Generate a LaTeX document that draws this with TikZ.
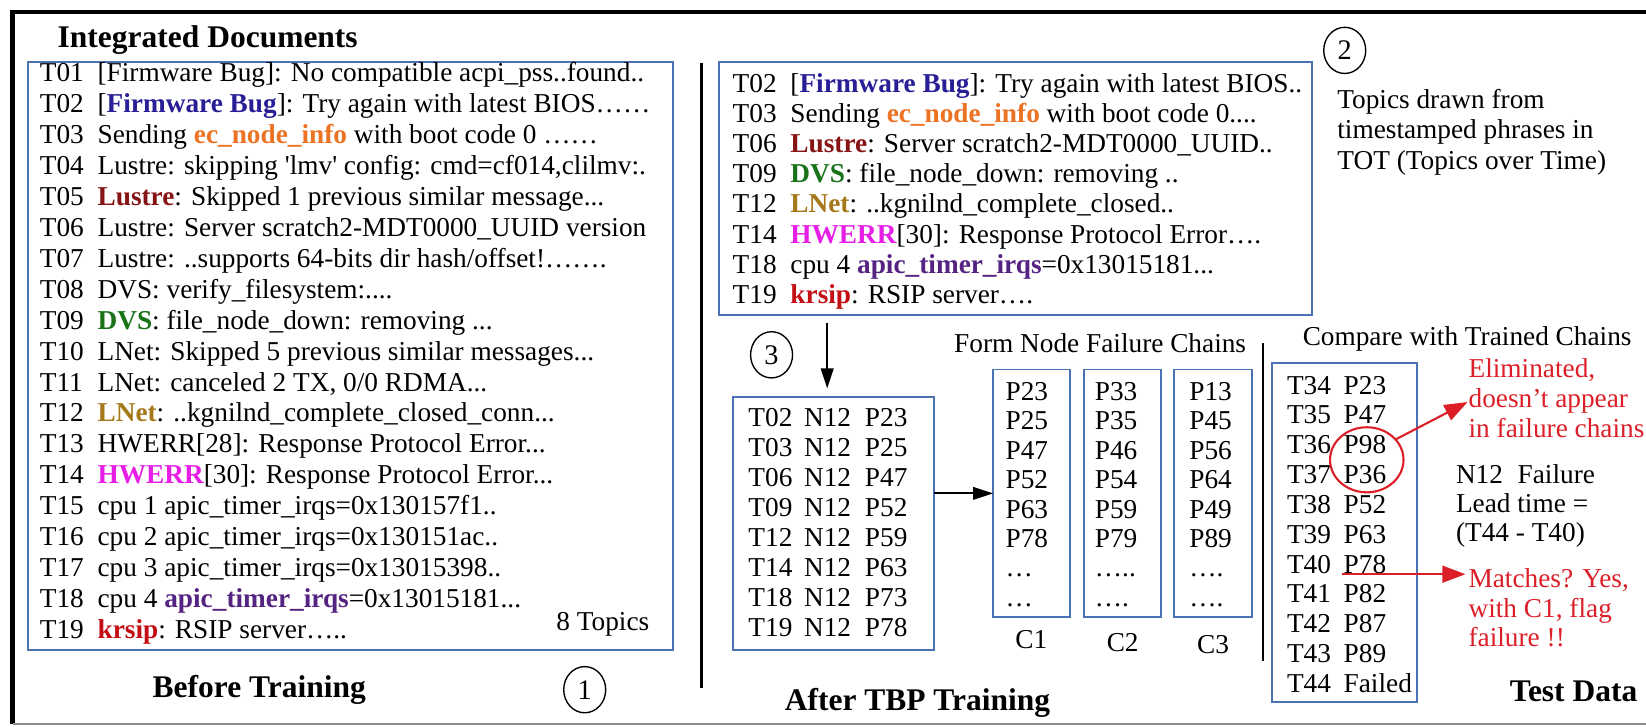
\documentclass[tikz,border=0pt]{standalone}
\usepackage{fontspec}
\setmainfont{Liberation Serif}
\usetikzlibrary{arrows.meta,shapes.geometric,calc}
\definecolor{bxblue}{RGB}{75,115,180}
\definecolor{fwblue}{RGB}{40,30,150}
\definecolor{ecorange}{RGB}{235,115,35}
\definecolor{lured}{RGB}{135,20,20}
\definecolor{dvsgreen}{RGB}{25,115,25}
\definecolor{lnetgold}{RGB}{165,120,25}
\definecolor{hwmag}{RGB}{230,30,230}
\definecolor{apicpurple}{RGB}{85,35,130}
\definecolor{krred}{RGB}{195,15,20}
\definecolor{annred}{RGB}{220,30,40}
\newcommand\kw[2]{\textbf{\color{#1}#2}}
\newcommand\tlab[1]{\makebox[55pt][l]{#1}}
\newcommand\tnp[3]{\makebox[53pt][l]{#1}\makebox[58pt][l]{#2}#3}
\newcommand\tpp[2]{\makebox[54pt][l]{#1}#2}
\begin{document}
\begin{tikzpicture}[x=1pt,y=-1pt,
  bx/.style={draw=bxblue, line width=1.8pt, rectangle, inner sep=0pt, outer sep=0pt},
  body/.style={inner sep=0pt, outer sep=0pt, anchor=base west, font=\fontsize{26}{29.5}\selectfont},
  ttl/.style={inner sep=0pt, outer sep=0pt, anchor=base, font=\fontsize{30}{34}\selectfont\bfseries},
  num/.style={draw, ellipse, line width=1.3pt, minimum width=40pt, minimum height=44pt, inner sep=0pt, font=\fontsize{27}{30}\selectfont},
  arr/.style={-{Triangle[length=19pt,width=12pt]}, line width=1.8pt},
  rarr/.style={draw=annred, line width=2pt, -{Triangle[length=22pt,width=16pt]}},
  sepline/.style={line width=2.5pt}]
\useasboundingbox (0,0) rectangle (1568,692);
% frame
\draw[line width=4pt] (1568,11.5) -- (12,11.5) -- (12,690);
\draw[line width=2pt, black!45] (12,690) -- (1568,690);
% titles
\node[ttl, anchor=base west] (tid) at (55,45) {Integrated Documents};
\node[ttl] (tbt) at (247,664) {Before Training};
\node[ttl] (tat) at (874,677) {After TBP Training};
\node[ttl] (ttd) at (1499,668) {Test Data};
% circled numbers
\node[num] (n1) at (557,657) {1};
\node[num] (n2) at (1281,48) {2};
\node[num] (n3) at (735,338) {3};
% left box
\node[bx, minimum width=614pt, minimum height=560pt] (L) at (334,339) {};
\node[body] (Ltxt) at (38,77.5) {\begin{tabular}[t]{@{}l@{}}
\tlab{T01}[Firmware Bug]: No compatible acpi\_pss..found..\\
\tlab{T02}[\kw{fwblue}{Firmware Bug}]: Try again with latest BIOS……\\
\tlab{T03}Sending \kw{ecorange}{ec\_node\_info} with boot code 0 ……\\
\tlab{T04}Lustre: skipping \textquotesingle lmv\textquotesingle\ config: cmd=cf014,clilmv:.\\
\tlab{T05}\kw{lured}{Lustre}: Skipped 1 previous similar message...\\
\tlab{T06}Lustre: Server scratch2-MDT0000\_UUID version\\
\tlab{T07}Lustre: ..supports 64-bits dir hash/offset!…….\\
\tlab{T08}DVS: verify\_filesystem:....\\
\tlab{T09}\kw{dvsgreen}{DVS}: file\_node\_down: removing ...\\
\tlab{T10}LNet: Skipped 5 previous similar messages...\\
\tlab{T11}LNet: canceled 2 TX, 0/0 RDMA...\\
\tlab{T12}\kw{lnetgold}{LNet}: ..kgnilnd\_complete\_closed\_conn...\\
\tlab{T13}HWERR[28]: Response Protocol Error...\\
\tlab{T14}\kw{hwmag}{HWERR}[30]: Response Protocol Error...\\
\tlab{T15}cpu 1 apic\_timer\_irqs=0x130157f1..\\
\tlab{T16}cpu 2 apic\_timer\_irqs=0x130151ac..\\
\tlab{T17}cpu 3 apic\_timer\_irqs=0x13015398..\\
\tlab{T18}cpu 4 \kw{apicpurple}{apic\_timer\_irqs}=0x13015181...\\
\tlab{T19}\kw{krred}{krsip}: RSIP server…..
\end{tabular}};
\node[body] (t8) at (530,600.5) {8 Topics};
% separator 1
\draw[sepline] (668,60) -- (668,655);
% middle box
\node[bx, minimum width=565pt, minimum height=241pt] (M) at (967.5,179.5) {};
\node[body, font=\fontsize{26}{28.6}\selectfont] (Mtxt) at (698,88.5) {\begin{tabular}[t]{@{}l@{}}
\tlab{T02}[\kw{fwblue}{Firmware Bug}]: Try again with latest BIOS..\\
\tlab{T03}Sending \kw{ecorange}{ec\_node\_info} with boot code 0....\\
\tlab{T06}\kw{lured}{Lustre}: Server scratch2-MDT0000\_UUID..\\
\tlab{T09}\kw{dvsgreen}{DVS}: file\_node\_down: removing ..\\
\tlab{T12}\kw{lnetgold}{LNet}: ..kgnilnd\_complete\_closed..\\
\tlab{T14}\kw{hwmag}{HWERR}[30]: Response Protocol Error….\\
\tlab{T18}cpu 4 \kw{apicpurple}{apic\_timer\_irqs}=0x13015181...\\
\tlab{T19}\kw{krred}{krsip}: RSIP server….
\end{tabular}};
\node[body, font=\fontsize{26}{28.8}\selectfont] (topics) at (1274,103.5) {\begin{tabular}[t]{@{}l@{}}
Topics drawn from\\ timestamped phrases in\\ TOT (Topics over Time)
\end{tabular}};
% lower box
\node[bx, minimum width=192pt, minimum height=241pt] (low) at (794,498.5) {};
\node[body, font=\fontsize{26}{28.6}\selectfont] (lowtxt) at (713,406.5) {\begin{tabular}[t]{@{}l@{}}
\tnp{T02}{N12}{P23}\\ \tnp{T03}{N12}{P25}\\ \tnp{T06}{N12}{P47}\\ \tnp{T09}{N12}{P52}\\
\tnp{T12}{N12}{P59}\\ \tnp{T14}{N12}{P63}\\ \tnp{T18}{N12}{P73}\\ \tnp{T19}{N12}{P78}
\end{tabular}};
\coordinate (ax) at (788,0);
\draw[arr, shorten <=8pt, shorten >=8pt] (ax |- M.south) -- (ax |- low.north);
% chains
\node[body] (fnfc) at (909,335.5) {Form Node Failure Chains};
\node[bx, minimum width=73pt, minimum height=236pt] (C1) at (982.5,470) {};
\node[bx, minimum width=73pt, minimum height=236pt] (C2) at (1069.5,470) {};
\node[bx, minimum width=75pt, minimum height=236pt] (C3) at (1155.5,470) {};
\node[body, font=\fontsize{26}{28}\selectfont] (c1t) at (958,381.5) {\begin{tabular}[t]{@{}l@{}}
P23\\ P25\\ P47\\ P52\\ P63\\ P78\\ …\\ …\end{tabular}};
\node[body, font=\fontsize{26}{28}\selectfont] (c2t) at (1043,381.5) {\begin{tabular}[t]{@{}l@{}}
P33\\ P35\\ P46\\ P54\\ P59\\ P79\\ …..\\ ….\end{tabular}};
\node[body, font=\fontsize{26}{28}\selectfont] (c3t) at (1133,381.5) {\begin{tabular}[t]{@{}l@{}}
P13\\ P45\\ P56\\ P64\\ P49\\ P89\\ ….\\ ….\end{tabular}};
\node[body, anchor=base] (c1l) at (982.5,617.5) {C1};
\node[body, anchor=base] (c2l) at (1069.5,620.5) {C2};
\node[body, anchor=base] (c3l) at (1155.5,622.5) {C3};
\coordinate (ay) at (0,470);
\draw[arr] (low.east |- ay) -- (C1.west |- ay);
% separator 2
\draw[sepline] (1203,327) -- (1203,630);
% test data
\node[body] (cwtc) at (1241,329.5) {Compare with Trained Chains};
\node[bx, minimum width=138pt, minimum height=323pt] (T) at (1281,507.5) {};
\node[body, font=\fontsize{26}{28.4}\selectfont] (ttxt) at (1226,375.5) {\begin{tabular}[t]{@{}l@{}}
\tpp{T34}{P23}\\ \tpp{T35}{P47}\\ \tpp{T36}{P98}\\ \tpp{T37}{P36}\\ \tpp{T38}{P52}\\ \tpp{T39}{P63}\\
\tpp{T40}{P78}\\ \tpp{T41}{P82}\\ \tpp{T42}{P87}\\ \tpp{T43}{P89}\\ \tpp{T44}{Failed}
\end{tabular}};
\node[draw=annred, line width=2pt, ellipse, minimum width=70pt, minimum height=62pt, inner sep=0pt] (ell) at (1302,438) {};
\node[body, font=\fontsize{26}{28.5}\selectfont, text=annred] (elim) at (1399,360) {\begin{tabular}[t]{@{}l@{}}
Eliminated,\\ doesn’t appear\\ in failure chains\end{tabular}};
\coordinate (elimtip) at (1398,383);
\draw[rarr] (ell.35) -- (elimtip);
\node[body, font=\fontsize{26}{27.5}\selectfont] (lead) at (1387,460.5) {\begin{tabular}[t]{@{}l@{}}
N12\hspace{14pt}Failure\\ Lead time =\\ (T44 - T40)\end{tabular}};
\node[body, font=\fontsize{26}{28}\selectfont, text=annred] (match) at (1399,560) {\begin{tabular}[t]{@{}l@{}}
Matches? Yes,\\ with C1, flag\\ failure !!\end{tabular}};
\coordinate (p78s) at (1278,547);
\coordinate (matchtip) at (1396,547);
\draw[rarr] (p78s) -- (matchtip);
\end{tikzpicture}
\end{document}
